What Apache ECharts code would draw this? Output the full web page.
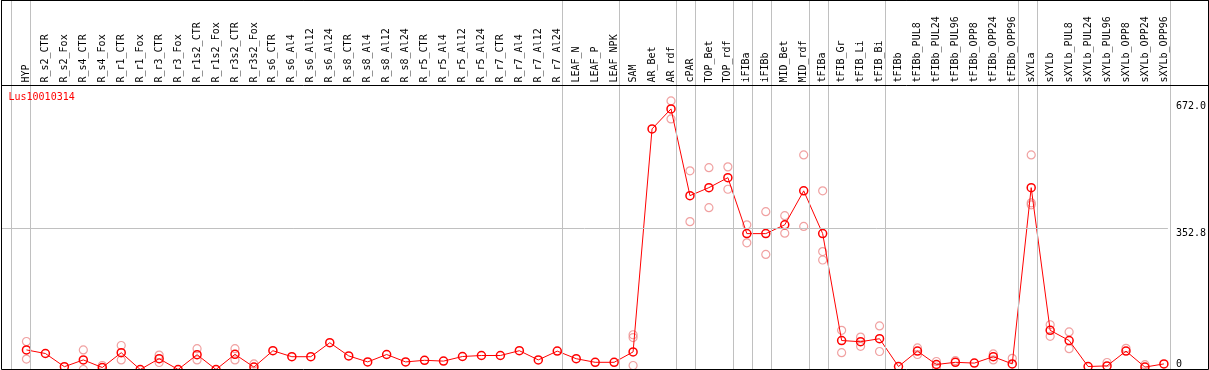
<!DOCTYPE html>
<html>
<head>
<meta charset="utf-8">
<script src="https://cdn.jsdelivr.net/npm/echarts@6/dist/echarts.min.js"></script>
<style>
  html, body { margin: 0; padding: 0; background: #fff; }
  #main { width: 1209px; height: 370px; }
</style>
</head>
<body>
<div id="main"></div>
<script>
// samples, left to right
var categories = [
  'HYP',
  'R_s2_CTR', 'R_s2_Fox', 'R_s4_CTR', 'R_s4_Fox', 'R_r1_CTR', 'R_r1_Fox',
  'R_r3_CTR', 'R_r3_Fox', 'R_r1s2_CTR', 'R_r1s2_Fox', 'R_r3s2_CTR', 'R_r3s2_Fox',
  'R_s6_CTR', 'R_s6_Al4', 'R_s6_Al12', 'R_s6_Al24',
  'R_s8_CTR', 'R_s8_Al4', 'R_s8_Al12', 'R_s8_Al24',
  'R_r5_CTR', 'R_r5_Al4', 'R_r5_Al12', 'R_r5_Al24',
  'R_r7_CTR', 'R_r7_Al4', 'R_r7_Al12', 'R_r7_Al24',
  'LEAF_N', 'LEAF_P', 'LEAF_NPK',
  'SAM', 'AR_Bet', 'AR_rdf',
  'cPAR',
  'TOP_Bet', 'TOP_rdf',
  'iFIBa',
  'iFIBb',
  'MID_Bet', 'MID_rdf',
  'tFIBa',
  'tFIB_Gr', 'tFIB_Li', 'tFIB_Bi',
  'tFIBb', 'tFIBb_PUL8', 'tFIBb_PUL24', 'tFIBb_PUL96', 'tFIBb_OPP8', 'tFIBb_OPP24', 'tFIBb_OPP96',
  'sXYLa',
  'sXYLb', 'sXYLb_PUL8', 'sXYLb_PUL24', 'sXYLb_PUL96', 'sXYLb_OPP8', 'sXYLb_OPP24', 'sXYLb_OPP96'
];

// mean expression (red line)
var meanValues = [
  49,
  40, 7, 24, 5, 42, 0,
  27, 0, 37, 0, 38, 6,
  47, 32, 32, 67,
  34, 19, 37.5, 19,
  23, 21, 32.5, 35,
  35, 47, 24, 46,
  27, 18, 18,
  44, 602, 652,
  435,
  455, 480,
  340,
  340,
  362, 447,
  340,
  72.5, 69.5, 77,
  7.5, 46, 12.5, 18, 16, 32, 14,
  455,
  98, 72.5, 7.5, 9, 46, 6, 14
];

// replicate values (pink circles), null where none shows
var repHigh = [
  70,
  null, null, 49, 10, 60, null,
  36, null, 52, null, 52, 14,
  null, null, null, null,
  null, null, null, null,
  null, null, null, null,
  null, null, null, null,
  null, null, null,
  87, null, 672,
  497,
  505, 507,
  362,
  395,
  385, 537,
  447,
  98, 81, 109,
  null, 54, 20, 22, null, 39, 28,
  537,
  112, 94, null, 17.5, 53, 12, null
];
var repLow = [
  26,
  null, null, 0, null, 24, null,
  17.5, null, 24, null, 24, null,
  null, null, null, null,
  null, null, null, null,
  null, null, null, null,
  null, null, null, null,
  null, null, null,
  10, null, 627,
  370,
  405, 451,
  317,
  288,
  341, 358,
  295,
  42, 58, 45,
  null, 37.5, 6, null, null, 24, null,
  417,
  83, 52, null, null, null, null, null
];
var repExtra = [
  null,
  null, null, null, null, null, null,
  null, null, null, null, null, null,
  null, null, null, null,
  null, null, null, null,
  null, null, null, null,
  null, null, null, null,
  null, null, null,
  80, null, null,
  null,
  null, null,
  null,
  null,
  null, null,
  274,
  null, null, null,
  null, null, null, null, null, null, null,
  412,
  null, null, null, null, null, null, null
];

// last sample index of each group (gray separators)
var groupEnds = [-1, 0, 28, 31, 34, 35, 37, 38, 39, 41, 42, 45, 52, 53, 60];
var yTicks = [0, 352.8, 672.0];
var yMax = 705.6;

var chartTitle = 'Lus10010314';

// layout (pixels)
var W = 1209, H = 370;
var firstX = 26.5, step = 19, sepShift = 4;
var frameL = 1.5, frameT = 0.5, frameR = 1208.5, frameB = 369.5;
var headerH = 85;
var plotTop = 87.5, plotRight = 1170.5;

function toIdx(px) { return (px - firstX) / step; }
function pairs(arr) {
  var out = [];
  arr.forEach(function (v, i) { if (v !== null) out.push([i, v]); });
  return out;
}

var mono = 'DejaVu Sans Mono';
var gray = '#c0c0c0';

var myChart = echarts.init(document.getElementById('main'), null, { renderer: 'canvas' });

var repStyle = {
  color: 'rgba(0,0,0,0)',
  borderColor: '#ec8a8a',
  borderWidth: 1.2
};

myChart.setOption({
  animation: false,
  title: {
    text: chartTitle,
    left: 8.5,
    top: 92,
    padding: 0,
    textStyle: { color: '#ff0000', fontFamily: mono, fontSize: 10, fontWeight: 'normal' }
  },
  grid: [
    { left: frameL, top: frameT, right: W - frameR, bottom: H - frameB,
      show: true, borderColor: '#000', borderWidth: 1, z: 10 },
    { left: frameL, top: frameT, right: W - frameR, height: headerH,
      show: true, borderColor: '#000', borderWidth: 1, z: 10 },
    { left: frameL, top: plotTop, right: W - plotRight, bottom: H - frameB }
  ],
  xAxis: [
    { gridIndex: 0, type: 'value', min: toIdx(frameL), max: toIdx(frameR), show: false },
    { gridIndex: 1, type: 'value', show: false },
    {
      gridIndex: 2, type: 'value', position: 'top',
      min: toIdx(frameL), max: toIdx(plotRight),
      axisLine: { show: false }, axisTick: { show: false }, splitLine: { show: false },
      axisLabel: {
        customValues: categories.map(function (c, i) { return i; }),
        formatter: function (v) { return categories[Math.round(v)]; },
        rotate: 90,
        margin: 5,
        color: '#000',
        fontFamily: mono,
        fontSize: 10
      }
    }
  ],
  yAxis: [
    { gridIndex: 0, type: 'value', min: 0, max: 1, show: false },
    { gridIndex: 1, type: 'value', show: false },
    {
      gridIndex: 2, type: 'value', position: 'right', min: 0, max: yMax,
      axisLine: { show: false }, axisTick: { show: false }, splitLine: { show: false },
      axisLabel: {
        customValues: yTicks.filter(function (v) { return v > 0; }),
        formatter: function (v) { return v.toFixed(1); },
        verticalAlign: 'top',
        margin: 8,
        color: '#000',
        fontFamily: mono,
        fontSize: 10
      }
    },
    {
      gridIndex: 2, type: 'value', position: 'right', min: 0, max: yMax,
      axisLine: { show: false }, axisTick: { show: false }, splitLine: { show: false },
      axisLabel: {
        customValues: yTicks.filter(function (v) { return v === 0; }),
        formatter: function (v) { return String(v); },
        verticalAlign: 'bottom',
        margin: 8,
        color: '#000',
        fontFamily: mono,
        fontSize: 10
      }
    }
  ],
  series: [
    {
      // group separators, full height
      type: 'line', xAxisIndex: 0, yAxisIndex: 0, data: [], z: 1, silent: true,
      markLine: {
        silent: true, symbol: 'none', label: { show: false },
        lineStyle: { color: gray, type: 'solid', width: 1 },
        data: groupEnds.map(function (g) { return { xAxis: g + sepShift / step }; })
      }
    },
    {
      // middle value line
      type: 'line', xAxisIndex: 2, yAxisIndex: 2, data: [], z: 1, silent: true,
      markLine: {
        silent: true, symbol: 'none', label: { show: false },
        lineStyle: { color: gray, type: 'solid', width: 1 },
        data: [{ yAxis: yTicks[1] }]
      }
    },
    {
      name: 'rep1', type: 'scatter', xAxisIndex: 2, yAxisIndex: 2, z: 2,
      symbol: 'circle', symbolSize: 8, itemStyle: repStyle, data: pairs(repHigh)
    },
    {
      name: 'rep2', type: 'scatter', xAxisIndex: 2, yAxisIndex: 2, z: 2,
      symbol: 'circle', symbolSize: 8, itemStyle: repStyle, data: pairs(repLow)
    },
    {
      name: 'rep3', type: 'scatter', xAxisIndex: 2, yAxisIndex: 2, z: 2,
      symbol: 'circle', symbolSize: 8, itemStyle: repStyle, data: pairs(repExtra)
    },
    {
      name: 'mean', type: 'line', xAxisIndex: 2, yAxisIndex: 2, z: 3,
      data: pairs(meanValues),
      symbol: 'circle', symbolSize: 8, showAllSymbol: true,
      lineStyle: { color: '#ff0000', width: 1 },
      itemStyle: { color: 'rgba(0,0,0,0)', borderColor: '#ff0000', borderWidth: 1.5 }
    }
  ]
});
</script>
</body>
</html>
